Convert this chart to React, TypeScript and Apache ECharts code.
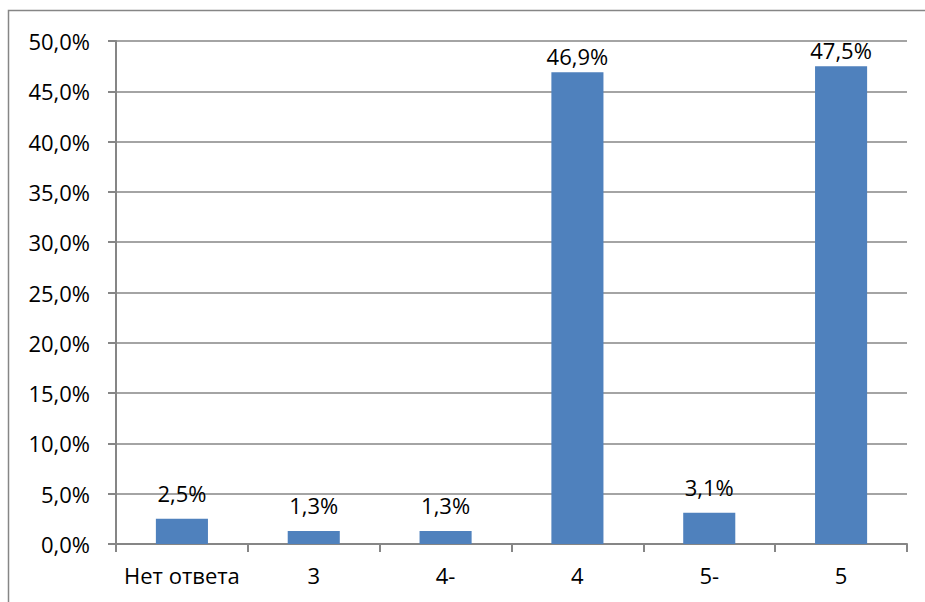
import React, { useEffect, useRef } from "react";
import * as echarts from "echarts";

const categories = ["Нет ответа", "3", "4-", "4", "5-", "5"];
const shares = [2.5, 1.3, 1.3, 46.9, 3.1, 47.5];
const yMin = 0;
const yMax = 50;
const yStep = 5;

const fmt = (v: number) => v.toFixed(1).replace(".", ",") + "%";

export default function App() {
  const ref = useRef<HTMLDivElement>(null);

  useEffect(() => {
    if (!ref.current) return;
    const chart = echarts.init(ref.current, null, { renderer: "svg" });
    const gray = "#868686";
    const font = "'Open Sans', 'Noto Sans', sans-serif";
    // tall bars keep their labels closer so they stay below the chart top
    const barData = shares.map((v) => ({
      value: v,
      label: { distance: v > 40 ? 5 : 15 },
    }));
    chart.setOption({
      animation: false,
      backgroundColor: "#ffffff",
      textStyle: { fontFamily: font },
      grid: { left: 116, right: 18, top: 41, bottom: 58 },
      graphic: [
        {
          type: "rect",
          shape: { x: 8.5, y: 10.5, width: 1000, height: 700 },
          style: { fill: "none", stroke: gray, lineWidth: 1.5 },
          silent: true,
        },
      ],
      xAxis: {
        type: "category",
        data: categories,
        boundaryGap: true,
        axisLine: { show: true, lineStyle: { color: gray, width: 2 } },
        axisTick: { show: true, length: 8, interval: 0, alignWithLabel: false, lineStyle: { color: gray, width: 2 } },
        axisLabel: { color: "#000", fontSize: 22, fontFamily: font, margin: 20, interval: 0 },
      },
      yAxis: {
        type: "value",
        min: yMin,
        max: yMax,
        interval: yStep,
        axisLine: { show: true, lineStyle: { color: gray, width: 2 } },
        axisTick: { show: true, length: 8, lineStyle: { color: gray, width: 2 } },
        splitLine: { show: true, lineStyle: { color: gray, width: 1.5 } },
        axisLabel: {
          color: "#000",
          fontSize: 22,
          fontFamily: font,
          margin: 26,
          formatter: (v: number) => fmt(v),
        },
      },
      series: [
        {
          type: "bar",
          data: barData,
          barWidth: "39.5%",
          itemStyle: { color: "#4f81bd" },
          label: {
            show: true,
            position: "top",
            color: "#000",
            fontSize: 22,
            fontFamily: font,
            formatter: (p: any) => fmt(p.value),
          },
        },
      ],
    });
    return () => chart.dispose();
  }, []);

  return (
    <div
      ref={ref}
      style={{ position: "absolute", left: 0, top: 0, width: 925, height: 602 }}
    />
  );
}
